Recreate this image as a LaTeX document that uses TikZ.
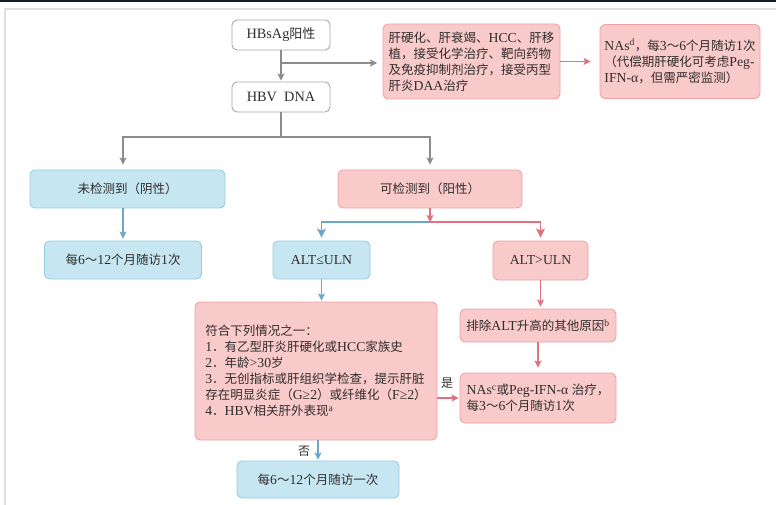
\documentclass[tikz,border=0pt]{standalone}
\usepackage{fontspec}
\setmainfont{Liberation Serif}[Scale=1.1]
\newfontfamily\cjk{Noto Sans CJK SC}
\usetikzlibrary{arrows.meta}
\XeTeXinterchartokenstate=1
\newXeTeXintercharclass\cjkclass
\newcount\cjkc
\def\cjkrange#1#2{\cjkc=#1\relax
  \loop\XeTeXcharclass\cjkc=\cjkclass\advance\cjkc by 1\relax\ifnum\cjkc<#2\relax\repeat}
\cjkrange{"3000}{"3040}
\cjkrange{"4E00}{"A000}
\cjkrange{"FF00}{"FFF0}
\XeTeXinterchartoks 0 \cjkclass = {\cjk}
\XeTeXinterchartoks 4095 \cjkclass = {\cjk}
\XeTeXinterchartoks \cjkclass 0 = {\rmfamily}
\XeTeXinterchartoks \cjkclass 4095 = {\rmfamily}
\definecolor{gbord}{RGB}{168,168,168}
\definecolor{bfill}{RGB}{198,231,242}
\definecolor{bbord}{RGB}{150,205,226}
\definecolor{pfill}{RGB}{249,202,202}
\definecolor{pbord}{RGB}{238,162,166}
\definecolor{garr}{RGB}{140,140,140}
\definecolor{barr}{RGB}{105,168,200}
\definecolor{parr}{RGB}{226,112,126}
\definecolor{frameg}{RGB}{222,222,222}
\definecolor{topdark}{RGB}{20,28,42}
\definecolor{txt}{RGB}{50,45,45}
\tikzset{
  box/.style={draw, rounded corners=5pt, line width=0.9pt, inner sep=0pt,
    align=center, text=txt, font=\fontsize{12.5}{16}\selectfont},
  gbox/.style={box, draw=gbord, fill=white, font=\fontsize{13}{16}\selectfont},
  bbox/.style={box, draw=bbord, fill=bfill},
  pbox/.style={box, draw=pbord, fill=pfill},
  con/.style={line width=1.1pt},
  tip/.style={-{Stealth[length=7pt,width=7pt,inset=1.5pt]}},
  bigtip/.style={-{Stealth[length=9pt,width=9pt,inset=2pt]}},
  garrow/.style={con, draw=garr, tip},
  gline/.style={con, draw=garr},
  barrow/.style={con, draw=barr, tip},
  parrow/.style={con, draw=parr, tip},
  lab/.style={text=txt, font=\fontsize{12}{14}\selectfont, inner sep=0pt}
}
\begin{document}
\begin{tikzpicture}[x=1pt,y=-1pt]
\useasboundingbox (0,0) rectangle (776,505);
\fill[white] (0,0) rectangle (776,505);
\fill[topdark] (0,0) rectangle (776,2.5);
\draw[frameg, line width=1.8pt] (5,505) -- (5,9) -- (776,9);

\node[gbox, minimum width=98pt, minimum height=30pt] (hbsag) at (281,35) {HBsAg阳性};
\node[gbox, minimum width=98pt, minimum height=30pt] (hbv) at (281,97) {HBV\ \ DNA};
\node[pbox, minimum width=177pt, minimum height=75pt, align=left] (cirr) at (471.5,61.5)
  {肝硬化、肝衰竭、HCC、肝移\\植，接受化学治疗、靶向药物\\及免疫抑制剂治疗，接受丙型\\肝炎DAA治疗};
\node[pbox, minimum width=160pt, minimum height=74pt, align=left] (nas1) at (680,61.5)
  {NAs\textsuperscript{d}，每3～6个月随访1次\\（代偿期肝硬化可考虑Peg-\\IFN-α，但需严密监测）};
\node[bbox, minimum width=195pt, minimum height=38pt] (undet) at (127.5,189) {未检测到（阴性）};
\node[pbox, minimum width=184pt, minimum height=38pt] (det) at (430,189) {可检测到（阳性）};
\node[bbox, minimum width=157pt, minimum height=38pt] (f1) at (123,260) {每6～12个月随访1次};
\node[bbox, minimum width=97pt, minimum height=38pt] (altle) at (321.5,260) {ALT≤ULN};
\node[pbox, minimum width=95pt, minimum height=39pt] (altgt) at (540.5,260.5) {ALT>ULN};
\node[pbox, minimum width=242pt, minimum height=138pt, align=left] (crit) at (316,371)
  {符合下列情况之一：\\1．有乙型肝炎肝硬化或HCC家族史\\2．年龄>30岁\\3．无创指标或肝组织学检查，提示肝脏\\存在明显炎症（G≥2）或纤维化（F≥2）\\4．HBV相关肝外表现\textsuperscript{a}};
\node[pbox, minimum width=156pt, minimum height=33pt] (excl) at (538,325.5) {排除ALT升高的其他原因\textsuperscript{b}};
\node[pbox, minimum width=156pt, minimum height=50pt, align=left] (nas2) at (538,398)
  {NAs\textsuperscript{c}或Peg-IFN-α 治疗，\\每3～6个月随访1次};
\node[bbox, minimum width=162pt, minimum height=37pt] (f2) at (318,479.5) {每6～12个月随访一次};

% connectors
\draw[garrow, shorten >=1pt] (hbsag) -- (hbv);
\coordinate (br) at (281,63);
\coordinate (brend) at (377,63);
\draw[garrow] (br) -- (brend);
\draw[parrow, shorten >=9pt] (cirr.east) -- (cirr.east -| nas1.west);
\coordinate (s1) at (281,137);
\draw[gline] (hbv) -- (s1);
\draw[garrow, shorten >=5pt] (s1) -| (f1.north |- undet.north);
\draw[garrow, shorten >=5pt] (s1) -| (det.north);
\draw[barrow, shorten >=2pt] (f1.north |- undet.south) -- (f1.north);
\coordinate (s2) at (430,222);
\draw[parrow] (det) -- (s2);
\draw[barrow, bigtip, shorten >=3pt] (s2) -| (altle.north);
\draw[parrow, bigtip, shorten >=3pt] (s2) -| (altgt.north);
\draw[barrow, shorten >=1pt] (altle.south) -- (altle.south |- crit.north);
\draw[parrow, shorten >=1pt] (crit.east |- nas2) -- (nas2.west);
\node[lab] (yes) at (447,383) {是};
\draw[barrow, shorten >=1pt] (f2.north |- crit.south) -- (f2.north);
\node[lab] (no) at (304,451) {否};
\draw[parrow, shorten >=2pt] (altgt.south) -- (altgt.south |- excl.north);
\draw[parrow, shorten >=5pt] (excl) -- (nas2);
\end{tikzpicture}
\end{document}
